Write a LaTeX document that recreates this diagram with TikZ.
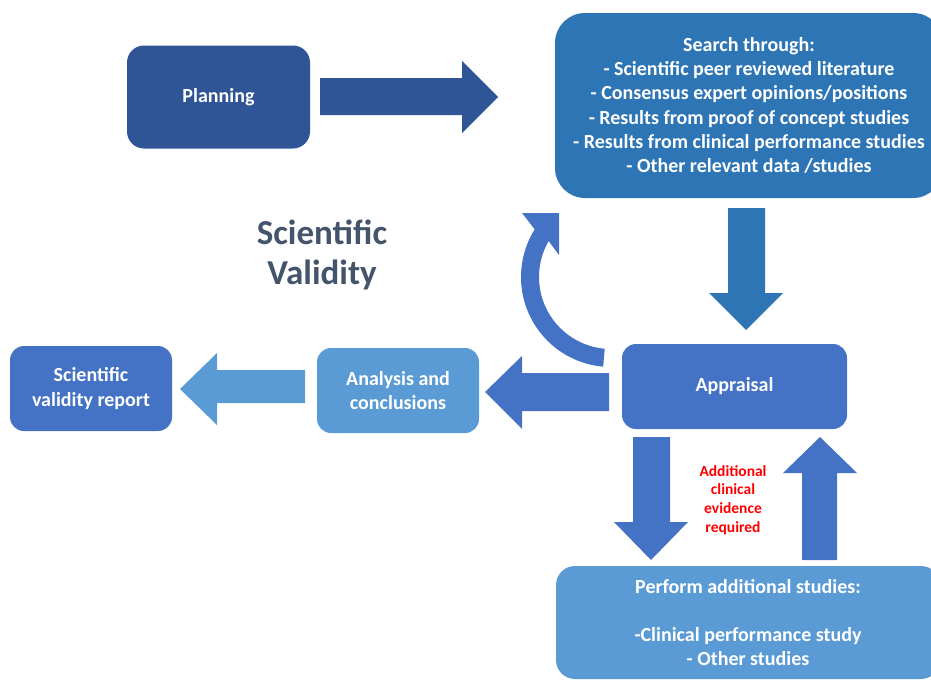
\documentclass[tikz,border=0pt]{standalone}
\usepackage{fontspec}
\setmainfont{Carlito}
\usetikzlibrary{calc}
\definecolor{cdark}{HTML}{2F5597}
\definecolor{cmid}{HTML}{2E75B6}
\definecolor{cacc}{HTML}{4472C4}
\definecolor{clight}{HTML}{5B9BD5}
\definecolor{ctitle}{HTML}{44546A}
\definecolor{cred}{HTML}{FF0000}
\tikzset{
  box/.style={draw=none, text=white, align=center, inner sep=0pt,
    font=\bfseries\fontsize{20}{24.2}\selectfont},
}
\begin{document}
\begin{tikzpicture}[x=1pt,y=-1pt]
\useasboundingbox (0,0) rectangle (931,680);
% boxes
\node[box, fill=cdark, rounded corners=17pt, minimum width=183pt, minimum height=103pt] (planning) at (218.5,97) {Planning};
\node[box, fill=cmid, rounded corners=30pt, minimum width=388pt, minimum height=185pt] (search) at (749,105.5)
  {Search through:\\- Scientific peer reviewed literature\\- Consensus expert opinions/positions\\- Results from proof of concept studies\\- Results from clinical performance studies\\- Other relevant data /studies};
\node[box, fill=cacc, rounded corners=14pt, minimum width=225pt, minimum height=85pt] (appraisal) at (734.5,386.5) {Appraisal};
\node[box, fill=clight, rounded corners=14pt, minimum width=162pt, minimum height=85pt] (analysis) at (398,390.5) {Analysis and\\conclusions};
\node[box, fill=cacc, rounded corners=14pt, minimum width=162pt, minimum height=85pt] (report) at (91,388.5) {Scientific\\validity report};
\node[box, fill=clight, rounded corners=19pt, minimum width=384pt, minimum height=113pt] (perform) at (748,622.5)
  {Perform additional studies:\\[24.2pt]-Clinical performance study\\- Other studies};
% title
\node[text=ctitle, align=center, inner sep=0pt, font=\bfseries\fontsize{35}{40}\selectfont] (title) at (322,255) {Scientific\\Validity};
% red label
\node[text=cred, align=center, inner sep=0pt, font=\bfseries\fontsize{15.5}{18.7}\selectfont] (label) at (733,500) {Additional\\clinical\\evidence\\required};
% block arrows
\fill[cdark] (320,78) -- (462,78) -- (462,61) -- (498,97) -- (462,133) -- (462,115) -- (320,115) -- cycle;
\fill[cmid] (728,208) -- (765,208) -- (765,293) -- (783,293) -- (746,330) -- (709,293) -- (728,293) -- cycle;
\fill[cacc] (609,373) -- (522,373) -- (522,356) -- (485,392) -- (522,429) -- (522,411) -- (609,411) -- cycle;
\fill[clight] (305,370) -- (217,370) -- (217,353) -- (180,389) -- (217,425) -- (217,403) -- (305,403) -- cycle;
\fill[cacc] (633,437) -- (670,437) -- (670,522) -- (688,522) -- (651,560) -- (614,522) -- (633,522) -- cycle;
\fill[cacc] (802,560) -- (837,560) -- (837,473) -- (857,473) -- (820,437) -- (783,473) -- (802,473) -- cycle;
% curved arrow
\coordinate (cc) at (611,277);
\fill[cacc] ($(cc)+(95:90)$) arc[start angle=95, end angle=212, radius=90]
  -- (522,213) -- (559,213) -- (559,255)
  -- ($(cc)+(210:72)$) arc[start angle=210, end angle=95, radius=72] -- cycle;
\end{tikzpicture}
\end{document}
